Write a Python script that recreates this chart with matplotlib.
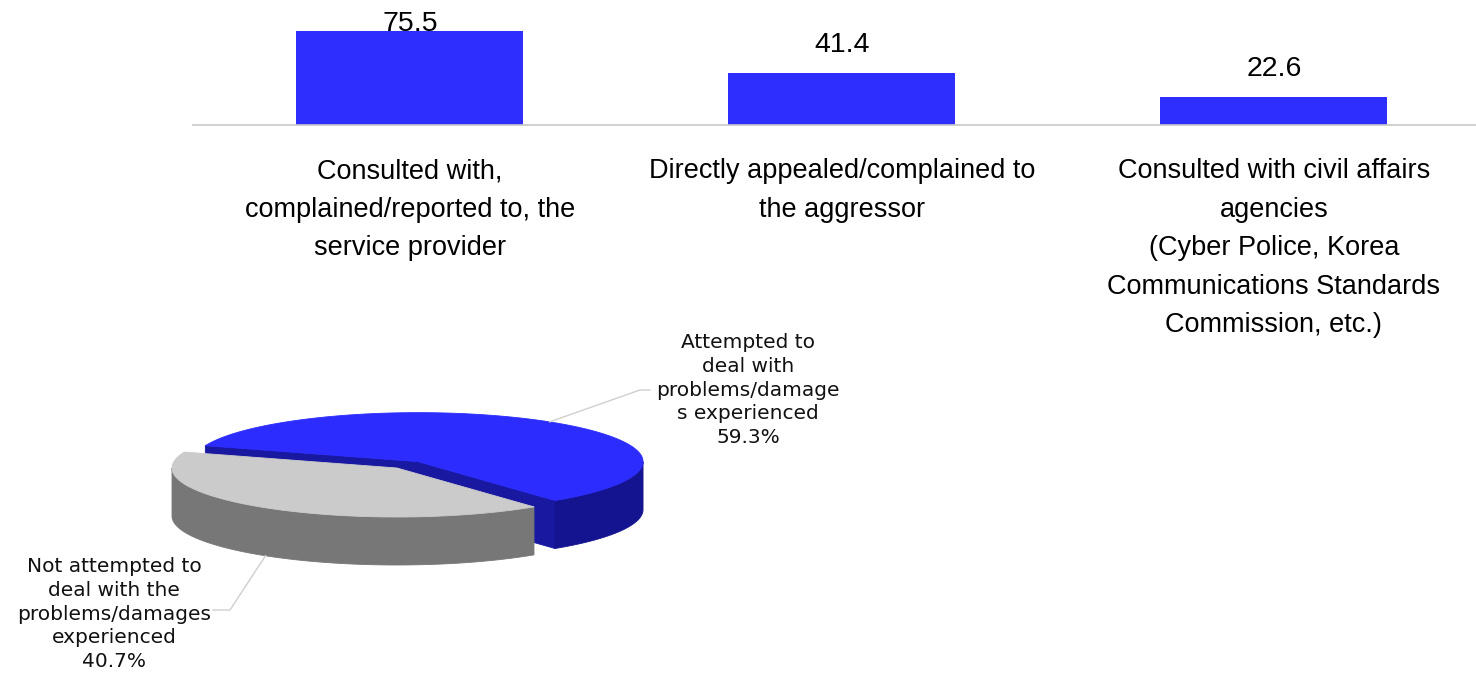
import numpy as np
import matplotlib.pyplot as plt
from matplotlib.patches import Polygon

# Ways of dealing with the problems (%)
categories = ['Consulted with,\ncomplained/reported to, the\nservice provider',
              'Directly appealed/complained to\nthe aggressor',
              'Consulted with civil affairs\nagencies\n(Cyber Police, Korea\nCommunications Standards\nCommission, etc.)']
values = [75.5, 41.4, 22.6]

# Share who attempted to deal with problems (%)
pie_labels = ['Attempted to\ndeal with\nproblems/damage\ns experienced',
              'Not attempted to\ndeal with the\nproblems/damages\nexperienced']
pie_shares = [59.3, 40.7]

W, H = 1476, 675
fig = plt.figure(figsize=(W / 100, H / 100), dpi=100)

# ---- bar chart on top ----
ax = fig.add_axes([193 / W, 1 - 125 / H, 1 - 193 / W, 125 / H])
x = np.arange(len(values))
ax.bar(x, values, width=0.525, color='#2e2eff')
ax.set_xlim(-0.502, 2.468)
ax.set_ylim(0, 100)
for s in ['top', 'left', 'right']:
    ax.spines[s].set_visible(False)
ax.spines['bottom'].set_color('#c8c8c8')
ax.spines['bottom'].set_linewidth(1.2)
ax.set_yticks([])
ax.set_xticks(x, categories, fontsize=19.5, family='Liberation Sans',
              linespacing=1.62)
ax.tick_params(axis='x', length=0, pad=24)
for xi, v in zip(x, values):
    ax.text(xi, min(v + 22.5, 80.5), f'{v}', ha='center', va='center',
            fontsize=20.5, family='Liberation Sans', clip_on=False)

# ---- 3D pie below ----
pax = fig.add_axes([0, 0, 1, 1], zorder=-1)
pax.set_xlim(0, W)
pax.set_ylim(H, 0)
pax.axis('off')

cx, cy = 397, 468      # pie centre
a, b = 225, 49         # ellipse radii
depth = 48             # thickness of the disc
start = -52.5
explode = [0.16, 0.0]
tops = ['#2c2cff', '#cbcbcb']
walls = ['#141490', '#777777']
faces = ['#1818a0', '#777777']


def rim(t, ox, oy, dz=0.0):
    t = np.radians(t)
    return np.column_stack([cx + ox + a * np.cos(t), cy + oy - b * np.sin(t) + dz])


def add_poly(pts, color):
    pax.add_patch(Polygon(pts, closed=True, facecolor=color, edgecolor=color,
                          linewidth=0.6))


spans = np.array(pie_shares) / sum(pie_shares) * 360
bounds = start + np.concatenate([[0], np.cumsum(spans)])
anchors = []
for i in range(len(pie_shares)):
    t1, t2 = bounds[i], bounds[i + 1]
    mid = np.radians((t1 + t2) / 2)
    ox = explode[i] * a * np.cos(mid)
    oy = -explode[i] * b * np.sin(mid)
    c = np.array([cx + ox, cy + oy])

    # radial faces
    for t, n in ((t1, t1 - 90), (t2, t2 + 90)):
        if np.sin(np.radians(n)) < 0:
            p = rim(t, ox, oy)[0]
            add_poly([c, p, p + [0, depth], c + [0, depth]], faces[i])

    # outer wall, front part only
    th = np.linspace(t1, t2, 500)
    front = np.sin(np.radians(th)) <= 0
    idx = np.flatnonzero(front)
    if idx.size:
        runs = np.split(idx, np.flatnonzero(np.diff(idx) > 1) + 1)
        for r in runs:
            tt = th[r]
            add_poly(np.vstack([rim(tt, ox, oy), rim(tt[::-1], ox, oy, depth)]), walls[i])

    # top face
    add_poly(np.vstack([c, rim(th, ox, oy)]), tops[i])
    anchors.append((np.degrees(mid), ox, oy))

# leader lines and labels
lead = '#cfcfcf'
m, ox, oy = anchors[0]
p = rim(m, ox, oy)[0]
pax.plot([p[0], 640, 650], [p[1], 390, 390], color=lead, lw=1)
pax.text(748, 390, f'{pie_labels[0]}\n{pie_shares[0]}%', ha='center', va='center',
         fontsize=14.5, linespacing=1.32, color='#111111')
m, ox, oy = anchors[1]
p = rim(m, ox, oy, depth)[0]
pax.plot([p[0], 230, 213], [p[1], 610, 610], color=lead, lw=1)
pax.text(114, 614, f'{pie_labels[1]}\n{pie_shares[1]}%', ha='center', va='center',
         fontsize=14.5, linespacing=1.32, color='#111111')

fig.savefig('out.png', dpi=100)
